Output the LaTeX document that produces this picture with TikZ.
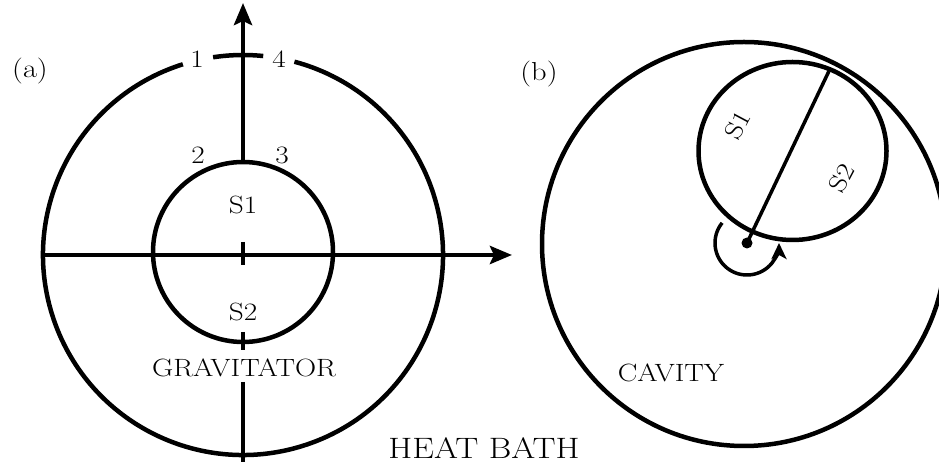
\documentclass[tikz,border=0pt]{standalone}
\usepackage{fontspec}
\usetikzlibrary{arrows.meta}
\newcommand{\stretchtxt}[1]{\scalebox{1.17}[1]{\addfontfeature{FakeBold=0.6}#1}}
\begin{document}
\begin{tikzpicture}[x=1pt,y=1pt,
  thick line/.style={line width=4.5pt},
  axis arrow/.style={line width=4.5pt,-{Stealth[length=22pt,width=18pt,inset=4pt]}},
  lbl/.style={inner sep=0pt,font=\fontsize{25}{30}\selectfont},
  wlbl/.style={inner sep=0pt,font=\fontsize{25}{30}\selectfont},
  biglbl/.style={inner sep=0pt,font=\fontsize{29.5}{34}\selectfont},
  tag/.style={inner sep=0pt,font=\fontsize{26}{30}\selectfont}]
\useasboundingbox (0,0) rectangle (939,468);
% ---------- panel (a) ----------
\coordinate (Oa) at (243,213);
\coordinate (Ia) at (243,216);
\draw[thick line] (Oa) ++(107.5:200) arc[start angle=107.5,end angle=435.1,radius=200];
\draw[thick line] (Oa) ++(98.6:200) arc[start angle=98.6,end angle=84.2,radius=200];
\draw[thick line] (Ia) circle[radius=90];
\coordinate (vtop0) at (243,306);
\coordinate (vtop1) at (243,465);
\draw[axis arrow] (vtop0) -- (vtop1);
\coordinate (hl) at (43,213);
\coordinate (hr) at (512,213);
\draw[axis arrow] (hl) -- (hr);
\coordinate (tk0) at (243,226);
\coordinate (tk1) at (243,203);
\draw[thick line] (tk0) -- (tk1);
\coordinate (bt0) at (243,136);
\coordinate (bt1) at (243,118);
\draw[thick line] (bt0) -- (bt1);
\coordinate (bb0) at (243,86);
\coordinate (bb1) at (243,6);
\draw[thick line] (bb0) -- (bb1);
\node[lbl] (n1) at (197,409) {\stretchtxt{1}};
\node[lbl] (n4) at (279,409) {\stretchtxt{4}};
\node[lbl] (n2) at (198,313) {\stretchtxt{2}};
\node[lbl] (n3) at (282,313) {\stretchtxt{3}};
\node[lbl] (s1a) at (243,263) {\stretchtxt{S1}};
\node[lbl] (s2a) at (243,156) {\stretchtxt{S2}};
\node[wlbl] (grav) at (244,100) {\stretchtxt{GRAVITATOR}};
\node[tag] (ta) at (30,397) {\stretchtxt{(a)}};
\node[biglbl] (heat) at (484,20) {\stretchtxt{HEAT BATH}};
% ---------- panel (b) ----------
\coordinate (Ob) at (744,224);
\coordinate (Sb) at (792.5,317);
\draw[thick line] (Ob) circle[radius=202];
\draw[thick line] (Sb) ellipse[x radius=94,y radius=89];
\coordinate (dot) at (747,225);
\coordinate (tang) at (829,397);
\draw[line width=3.5pt] (dot) -- (tang);
\fill (dot) circle[radius=5.5];
\draw[line width=3.5pt,-{Stealth[length=16pt,width=15pt,inset=4pt]}] (dot) ++(141:32) arc[start angle=141,end angle=360,radius=32];
\node[lbl,rotate=62] (s1b) at (738,343) {\stretchtxt{S1}};
\node[lbl,rotate=62] (s2b) at (842,290) {\stretchtxt{S2}};
\node[wlbl] (cav) at (671,95) {\stretchtxt{CAVITY}};
\node[tag] (tb) at (539,394) {\stretchtxt{(b)}};
\end{tikzpicture}
\end{document}
